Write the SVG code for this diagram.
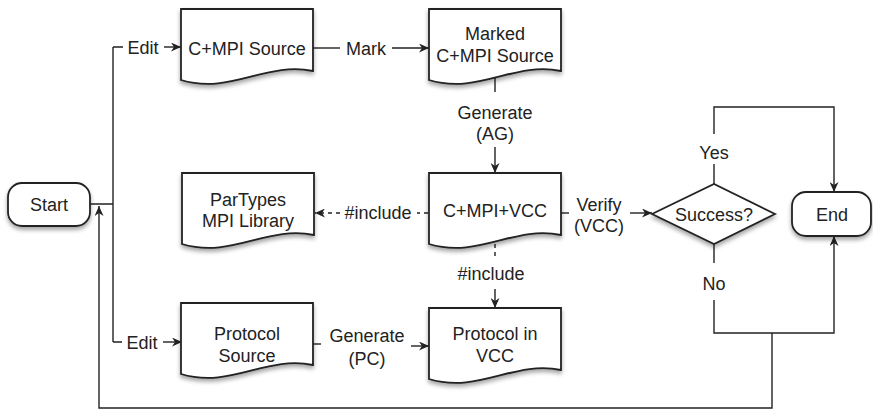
<svg xmlns="http://www.w3.org/2000/svg" width="873" height="410" viewBox="0 0 873 410">
<style>
.shape{fill:#fff;stroke:#222;stroke-width:1.8;filter:url(#sh)}
.ln{fill:none;stroke:#222;stroke-width:1.4}
.arr{marker-end:url(#ah)}
.dash{stroke-dasharray:4 4}
text{font-family:"Liberation Sans",Arial,sans-serif;font-size:18px;fill:#222;text-anchor:middle}
</style>
<defs>
<filter id="sh" x="-10%" y="-10%" width="120%" height="130%">
<feDropShadow dx="0" dy="3" stdDeviation="2" flood-color="#000" flood-opacity="0.35"/>
</filter>
<marker id="ah" markerWidth="11" markerHeight="9" refX="10" refY="4.5" orient="auto" markerUnits="userSpaceOnUse">
<path d="M0,0 L10,4.5 L0,9 L3,4.5 Z" fill="#222"/>
</marker>
<path id="doc" d="M0,0 H132 V62 C85,52 50,86 0,71 Z"/>
</defs>

<g id="connectors">
<path class="ln" d="M90,204 H113 M113,47 V342 M113,47 H123 M113,342 H122"/>
<path class="ln arr" d="M164,47 H181"/>
<path class="ln arr" d="M163,342 H182"/>
<path class="ln" d="M313,48 H340"/>
<path class="ln arr" d="M392,48 H429"/>
<path class="ln" d="M495,78 V92"/>
<path class="ln arr" d="M495,147 V173"/>
<path class="ln dash" d="M428,213 H417"/>
<path class="ln dash arr" d="M340,213 H315"/>
<path class="ln" d="M561,213 H569"/>
<path class="ln arr" d="M630,213 H652"/>
<path class="ln dash" d="M495,244 V257" stroke-dasharray="2 5"/>
<path class="ln arr" d="M495,289 V308"/>
<path class="ln" d="M313,344 H321"/>
<path class="ln arr" d="M411,346 H429"/>
<path class="ln" d="M714,184 V164"/>
<path class="ln arr" d="M714,134 V107 H834 V192"/>
<path class="ln" d="M714,244 V263"/>
<path class="ln arr" d="M714,300 V333 H834 V236"/>
<path class="ln arr" d="M772,333 V408 H99 V206"/>
</g>

<g id="edge-labels">
<text x="143" y="53.5">Edit</text>
<text x="142" y="348.5">Edit</text>
<text x="366" y="54.5">Mark</text>
<text x="495" y="118.5">Generate</text>
<text x="495" y="139.5">(AG)</text>
<text x="378" y="219">#include</text>
<text x="599" y="211">Verify</text>
<text x="599" y="232">(VCC)</text>
<text x="491" y="279.5">#include</text>
<text x="367" y="341.5">Generate</text>
<text x="367" y="364.5">(PC)</text>
<text x="714" y="158.5">Yes</text>
<text x="714" y="289.5">No</text>
</g>

<g id="start">
<rect class="shape" x="8" y="183" width="82" height="43" rx="14"/>
<text x="49" y="210.5">Start</text>
</g>

<g id="cmpi-source">
<use href="#doc" class="shape" x="181" y="9"/>
<text x="247" y="54.5">C+MPI Source</text>
</g>

<g id="marked-source">
<use href="#doc" class="shape" x="429" y="9"/>
<text x="495" y="39.5">Marked</text>
<text x="495" y="61.5">C+MPI Source</text>
</g>

<g id="cmpi-vcc">
<use href="#doc" class="shape" x="429" y="173"/>
<text x="495" y="216.5">C+MPI+VCC</text>
</g>

<g id="partypes">
<use href="#doc" class="shape" x="182" y="173"/>
<text x="248" y="205.5">ParTypes</text>
<text x="248" y="226.5">MPI Library</text>
</g>

<g id="protocol-source">
<use href="#doc" class="shape" x="181" y="303"/>
<text x="247" y="339.5">Protocol</text>
<text x="247" y="361.5">Source</text>
</g>

<g id="protocol-vcc">
<use href="#doc" class="shape" x="429" y="308"/>
<text x="495" y="339.5">Protocol in</text>
<text x="495" y="361.5">VCC</text>
</g>

<g id="success">
<path class="shape" d="M652,214 L714,184 L775,214 L714,244 Z"/>
<text x="714" y="220.5">Success?</text>
</g>

<g id="end">
<rect class="shape" x="792" y="192" width="79" height="44" rx="14"/>
<text x="832" y="220.5">End</text>
</g>
</svg>
